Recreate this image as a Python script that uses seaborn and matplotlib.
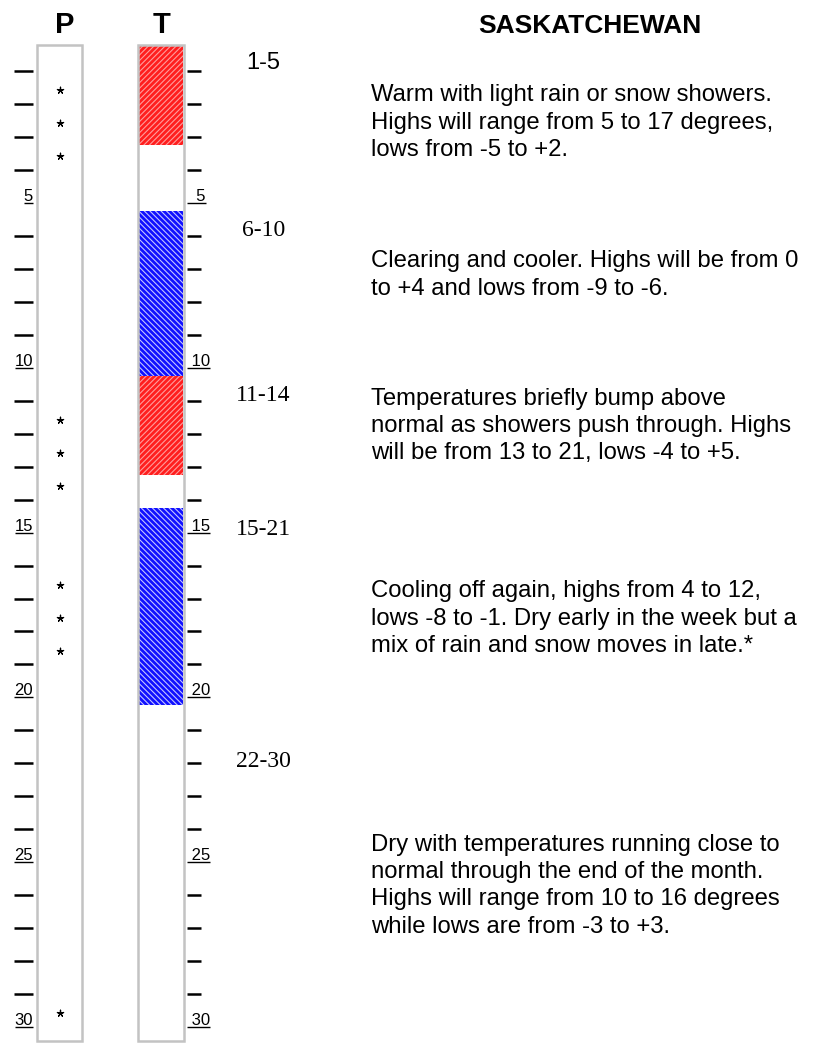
import numpy as np
import matplotlib
matplotlib.use("Agg")
import matplotlib.pyplot as plt
import matplotlib.transforms as mtransforms
from matplotlib.patches import Rectangle
import seaborn as sns


# ============================================================
# DATA
# ============================================================
days = list(range(1, 31))
label_days = [5, 10, 15, 20, 25, 30]

# P column: days flagged with an asterisk
precip_days = [2, 3, 4, 12, 13, 14, 17, 18, 19, 30]

# T column: warm / cool spells (first day, last day)
temp_start = [1, 6, 11, 15]
temp_end = [3, 10, 13, 20]
temp_kind = ["above", "below", "above", "below"]

periods = ["1-5", "6-10", "11-14", "15-21", "22-30"]

title = "SASKATCHEWAN"
forecasts = [
    ["Warm with light rain or snow showers.",
     "Highs will range from 5 to 17 degrees,",
     "lows from -5 to +2."],
    ["Clearing and cooler. Highs will be from 0",
     "to +4 and lows from -9 to -6."],
    ["Temperatures briefly bump above",
     "normal as showers push through. Highs",
     "will be from 13 to 21, lows -4 to +5."],
    ["Cooling off again, highs from 4 to 12,",
     "lows -8 to -1. Dry early in the week but a",
     "mix of rain and snow moves in late.*"],
    ["Dry with temperatures running close to",
     "normal through the end of the month.",
     "Highs will range from 10 to 16 degrees",
     "while lows are from -3 to +3."],
]


# ============================================================
# LAYOUT
# ============================================================
W, H = 838, 1044
Y0, DY = 38.03, 32.97          # pixel of day 0 boundary, pixels per day


def tday(px):
    return (px - Y0) / DY


sns.set_theme(style="white")
plt.rcParams["font.family"] = ["Liberation Sans", "DejaVu Sans"]
plt.rcParams["text.color"] = "black"
plt.rcParams["hatch.linewidth"] = 0.8

fig = plt.figure(figsize=(W / 100, H / 100), dpi=100)
ax = fig.add_axes([0, 0, 1, 1])
ax.set_xlim(0, W)
ax.set_ylim(tday(H), tday(0))
ax.axis("off")

# top-left pixel coordinates for free text
pix = mtransforms.Affine2D().scale(1, -1).translate(0, H)

styles = {
    "above": ("#ff1e1e", "#ff9c9c", "//////"),
    "below": ("#1010ff", "#c4c4ff", "\\\\\\\\\\\\"),
}

# ============================================================
# T COLUMN BARS
# ============================================================
OFF = 0.24
for s, e, k in zip(temp_start, temp_end, temp_kind):
    face, hc, hatch = styles[k]
    ax.bar(161, e - s + 1, bottom=s - 1 + OFF, width=43.5,
           color=face, edgecolor=hc, hatch=hatch, linewidth=0, zorder=2)

# column frames
box_top, box_bot = tday(44.5), tday(1040.5)
for x0 in [36.8, 138.3]:
    ax.add_patch(Rectangle((x0, box_top), 45.2, box_bot - box_top,
                           fill=False, ec="#c3c3c3", lw=1.8, zorder=3))

# ============================================================
# P COLUMN ASTERISKS
# ============================================================
sns.scatterplot(x=[59.5] * len(precip_days), y=np.array(precip_days) - 0.42,
                marker=(5, 2, 0), s=22, color="black", edgecolor="black",
                linewidth=0.9, ax=ax, zorder=4, legend=False)

# ============================================================
# DAY TICKS
# ============================================================
plain = [d for d in days if d % 5]
ax.hlines(plain, 14, 33, color="black", lw=1.8)
ax.hlines(plain, 187, 201, color="black", lw=1.8)

labels = []
for d in label_days:
    lp = ax.text(33, d - 0.06, str(d), ha="right", va="baseline", fontsize=12)
    lt = ax.text(187, d - 0.06, " " * (3 - len(str(d))) + str(d),
                 ha="left", va="baseline", fontsize=12)
    labels.append((d, lp, lt))

fig.canvas.draw()
for d, lp, lt in labels:
    bp = lp.get_window_extent()
    bt = lt.get_window_extent()
    ax.hlines(d, bp.x0, bp.x1, color="black", lw=1.0)
    ax.hlines(d, 187, bt.x1, color="black", lw=1.0)

# ============================================================
# HEADERS
# ============================================================
ax.text(65, 33, "P", transform=pix, ha="center", va="baseline",
        fontsize=21, fontweight="bold")
ax.text(162, 33, "T", transform=pix, ha="center", va="baseline",
        fontsize=21, fontweight="bold")
ax.text(590, 33, title, transform=pix, ha="center", va="baseline",
        fontsize=19, fontweight="bold")

# period labels
period_y = [69, 236, 401, 535, 767]
for i, (p, y) in enumerate(zip(periods, period_y)):
    fam = ["Liberation Sans"] if i == 0 else ["Liberation Serif"]
    ax.text(263.5, y, p, transform=pix, ha="center", va="baseline",
            fontsize=17, family=fam)

# forecast paragraphs
para_y = [101, 267.5, 404.5, 597.5, 850.5]
for y, lines in zip(para_y, forecasts):
    for j, line in enumerate(lines):
        ax.text(371, y + 27.5 * j, line, transform=pix, ha="left",
                va="baseline", fontsize=17.2)

fig.savefig("out.png", dpi=100)
